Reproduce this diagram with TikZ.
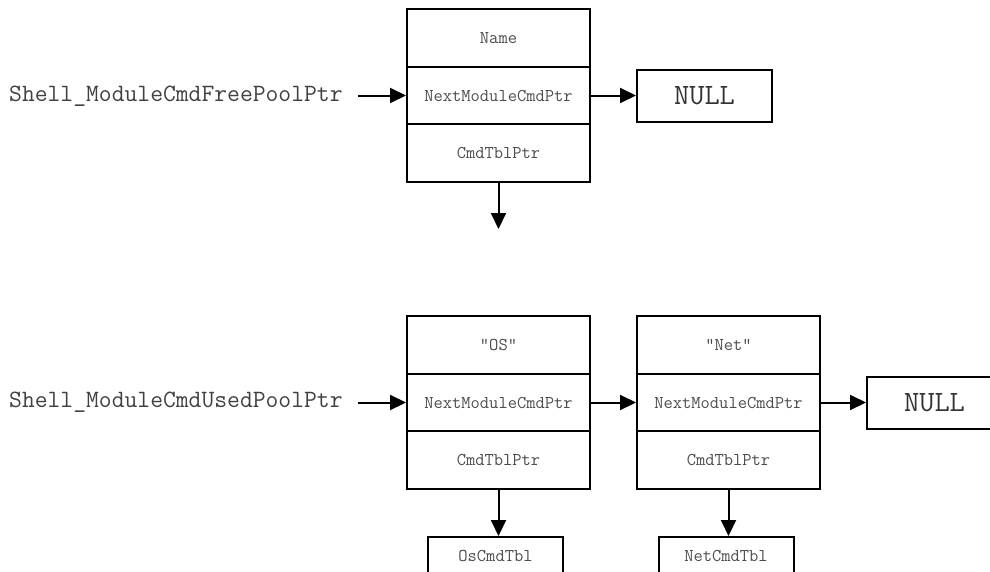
\documentclass[tikz,border=0pt]{standalone}
\usetikzlibrary{arrows.meta}
\begin{document}
\begin{tikzpicture}[x=1pt,y=-1pt,
  cell/.style={draw=black,line width=2pt,minimum width=183pt,minimum height=57.5pt,inner sep=0pt,
    font=\ttfamily\fontsize{18}{20}\selectfont,text=black!70},
  nullbox/.style={draw=black,line width=2pt,minimum width=135pt,minimum height=52pt,inner sep=0pt,
    font=\ttfamily\fontsize{29.5}{32}\selectfont,text=black!80},
  tblbox/.style={draw=black,line width=2pt,minimum width=135pt,minimum height=38pt,inner sep=0pt,
    font=\ttfamily\fontsize{18}{20}\selectfont,text=black!70},
  lbl/.style={inner sep=0pt,anchor=west,font=\ttfamily\fontsize{24.9}{27}\selectfont,text=black!75},
  arr/.style={line width=2pt,-{Triangle[length=16pt,width=15pt]}}]
\clip (0,0) rectangle (990,571);
% top group
\node[cell] (tName) at (498.5,38) {Name};
\node[cell] (tNext) at (498.5,95.5) {NextModuleCmdPtr};
\node[cell] (tCmd) at (498.5,153) {CmdTblPtr};
\node[nullbox] (tNull) at (704.5,95.5) {NULL};
\node[lbl] (freeLbl) at (9,96) {Shell\char`\_ModuleCmdFreePoolPtr};
\coordinate (tDown) at (498.5,229);
\draw[arr] ([xshift=15pt]freeLbl.east |- tNext.west) -- (tNext.west);
\draw[arr] (tNext.east) -- (tNull.west);
\draw[arr] (tCmd.south) -- (tDown);
% bottom group
\node[cell] (osName) at (498.5,345) {"OS"};
\node[cell] (osNext) at (498.5,402.5) {NextModuleCmdPtr};
\node[cell] (osCmd) at (498.5,460) {CmdTblPtr};
\node[cell] (netName) at (728.5,345) {"Net"};
\node[cell] (netNext) at (728.5,402.5) {NextModuleCmdPtr};
\node[cell] (netCmd) at (728.5,460) {CmdTblPtr};
\node[nullbox] (bNull) at (934.5,402.5) {NULL};
\node[tblbox] (osTbl) at (495.5,556) {OsCmdTbl};
\node[tblbox] (netTbl) at (726,556) {NetCmdTbl};
\node[lbl] (usedLbl) at (9,402) {Shell\char`\_ModuleCmdUsedPoolPtr};
\draw[arr] ([xshift=15pt]usedLbl.east |- osNext.west) -- (osNext.west);
\draw[arr] (osNext.east) -- (netNext.west);
\draw[arr] (netNext.east) -- (bNull.west);
\draw[arr] (osCmd.south) -- (osCmd.south |- osTbl.north);
\draw[arr] (netCmd.south) -- (netCmd.south |- netTbl.north);
\end{tikzpicture}
\end{document}
